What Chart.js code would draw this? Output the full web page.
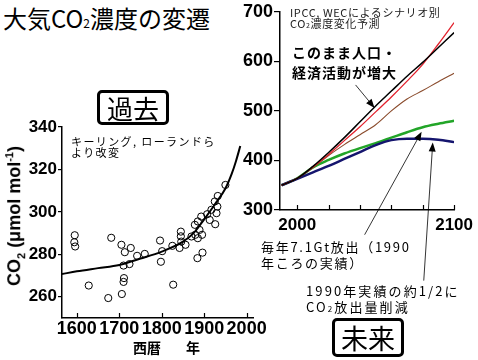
<!DOCTYPE html>
<html><head><meta charset="utf-8">
<script src="https://cdn.jsdelivr.net/npm/chart.js@4/dist/chart.umd.min.js"></script>
<style>
html,body{margin:0;padding:0;background:#fff;width:478px;height:360px;overflow:hidden;}
#wrap{position:relative;width:478px;height:360px;}
canvas{position:absolute;}
.t{position:absolute;white-space:nowrap;font-family:"Noto Sans CJK JP",sans-serif;color:#000;z-index:5;}
.box{position:absolute;box-sizing:border-box;border:3px solid #000;border-radius:5px;text-align:center;font-family:"Noto Sans CJK JP",sans-serif;z-index:5;background:#fff;}
</style></head><body>
<div id="wrap">
<canvas id="past" style="left:0;top:100px;width:270px;height:260px;" width="270" height="260"></canvas>
<canvas id="future" style="left:230px;top:0;width:248px;height:290px;" width="248" height="290"></canvas>

<div class="t" style="left:3px;top:6px;font-size:24px;line-height:24px;">大気CO<span style="font-size:12px;">2</span>濃度の変遷</div>
<div class="t" style="left:290px;top:6.5px;font-size:11px;line-height:11.5px;letter-spacing:0.6px;color:#222;">IPCC, WECによるシナリオ別<br>CO<span style="font-size:7px;">2</span>濃度変化予測</div>
<div class="t" style="left:292px;top:43px;font-size:14px;line-height:19.5px;font-weight:bold;letter-spacing:1px;">このまま人口・<br>経済活動が増大</div>
<div class="t" style="left:71px;top:136px;font-size:11px;line-height:11px;letter-spacing:1.4px;">キーリング, ローランドら<br>より改変</div>
<div class="t" style="left:261px;top:238.5px;font-size:13px;line-height:16px;letter-spacing:1.7px;">毎年7.1Gt放出（1990<br>年ころの実績）</div>
<div class="t" style="left:306px;top:282.5px;font-size:13px;line-height:16px;letter-spacing:2.1px;">1990年実績の約1/2に<br>CO<span style="font-size:8px;">2</span>放出量削減</div>
<div class="t" style="left:133px;top:340px;font-size:14px;line-height:14px;font-weight:bold;">西暦</div>
<div class="t" style="left:186px;top:340px;font-size:14px;line-height:14px;font-weight:bold;">年</div>
<div class="t" style="left:15px;top:216px;transform:translate(-50%,-50%) rotate(-90deg);font-family:'Liberation Sans',Arial,sans-serif;font-weight:bold;font-size:18px;line-height:20px;">CO<sub style="font-size:11px;">2</sub> (μmol mol<sup style="font-size:11px;">-1</sup>)</div>
<div class="box" style="left:97px;top:90px;width:72px;height:35px;font-size:26px;line-height:29px;">過去</div>
<div class="box" style="left:332px;top:318px;width:72px;height:39px;font-size:27px;line-height:33px;">未来</div>
</div>
<script>
// ---- past (ice core) data ----
const pastYears = [1594,1595,1596,1628,1674,1681,1705,1706,1710,1710,1711,1713,1724,1727,1742,1760,1796,1798,1801,1825,1827,1842,1845,1845,1846,1856,1870,1878,1879,1884,1885,1885,1889,1893,1895,1896,1907,1913,1917,1925,1926,1929,1931,1932,1950];
const pastCO2   = [285.7,289,283.7,265.3,259.4,287.8,284.5,261.3,267,274.7,268.8,281,275.4,283,279.3,280.2,286.5,276.5,281.5,284,265.7,283,290.7,288.5,286,284.5,288.4,293.9,289.2,278.2,295.5,287.6,291.5,297.8,289.2,280.8,298.9,296.2,301,304.9,294.2,299.4,302.5,307.5,312.7];
const fitYears  = [1565,1600,1650,1700,1750,1800,1850,1875,1900,1925,1950,1965,1975,1985];
const fitCO2    = [270.7,272,273.5,275,278,281.3,286,290,296.5,303.5,311,318,324,331];
const pastXTicks = [1600,1700,1800,1900,2000];
const pastYTicks = [260,280,300,320,340];

// ---- future scenarios ----
const futYears = [1990,2000,2010,2020,2030,2040,2050,2060,2070,2080,2090,2100];
const scenBlack = [350,364,388,416,446,478,510,540,570,598,628,658];
const scenRed   = [350,364,387,412,440,468,498,528,560,594,635,678];
const scenBrown = [350,364,385,410,432,452,472,500,524,541,559,576];
const scenGreen = [350,364,386,401,414,425,435,446,457,467,474,480];
const scenBlue  = [350,363,376,389,403,417,431,441,444,444,442,437];
const futXTicks = [2000,2020,2040,2060,2080,2100];
const futXLabels = [2000,2100];
const futYTicks = [300,400,500,600,700];

// arrows: tip in data units
const arrowYear = [2049.3, 2079.3, 2086.4];
const arrowCO2  = [506, 458, 436];

const tickFont = (s)=>({family:"'Liberation Sans', Arial, sans-serif", weight:'bold', size:s});

const inwardTicks = {
  id:'inwardTicks',
  afterDraw(chart){
    const sx = chart.scales.x, ctx = chart.ctx, b = chart.chartArea.bottom;
    ctx.save(); ctx.strokeStyle='#000'; ctx.lineWidth=1.2;
    sx.ticks.forEach(t=>{const p=Math.round(sx.getPixelForValue(t.value))+0.5; ctx.beginPath(); ctx.moveTo(p,b); ctx.lineTo(p,b-5); ctx.stroke();});
    ctx.restore();
  }
};

const arrows = {
  id:'arrows',
  afterDraw(chart){
    const sx = chart.scales.x, sy = chart.scales.y, ctx = chart.ctx;
    const tails = [[-19,-23],[-57,103],[-9,138]];
    ctx.save(); ctx.strokeStyle='#000'; ctx.fillStyle='#000'; ctx.lineWidth=0.8;
    arrowYear.forEach((yr,i)=>{
      const tx = sx.getPixelForValue(yr), ty = sy.getPixelForValue(arrowCO2[i]);
      const fx = tx + tails[i][0], fy = ty + tails[i][1];
      const a = Math.atan2(ty-fy, tx-fx);
      ctx.beginPath(); ctx.moveTo(fx,fy); ctx.lineTo(tx - 7*Math.cos(a), ty - 7*Math.sin(a)); ctx.stroke();
      const L=9, W=3.5;
      ctx.beginPath(); ctx.moveTo(tx,ty);
      ctx.lineTo(tx - L*Math.cos(a) + W*Math.sin(a), ty - L*Math.sin(a) - W*Math.cos(a));
      ctx.lineTo(tx - L*Math.cos(a) - W*Math.sin(a), ty - L*Math.sin(a) + W*Math.cos(a));
      ctx.closePath(); ctx.fill();
    });
    ctx.restore();
  }
};

new Chart(document.getElementById('past'), {
  data:{datasets:[
    {type:'line', data:fitYears.map((x,i)=>({x, y:fitCO2[i]})), borderColor:'#000', borderWidth:2, pointRadius:0, cubicInterpolationMode:'monotone', fill:false},
    {type:'scatter', data:pastYears.map((x,i)=>({x, y:pastCO2[i]})), pointRadius:3.6, pointBorderWidth:1, pointBorderColor:'#000', pointBackgroundColor:'rgba(0,0,0,0)'}
  ]},
  options:{
    responsive:false, devicePixelRatio:1, animation:false,
    plugins:{legend:{display:false}, tooltip:{enabled:false}},
    layout:{padding:{left:0, right:17, top:27, bottom:0}},
    scales:{
      x:{type:'linear', min:1565, max:2015,
        afterBuildTicks:s=>{s.ticks = pastXTicks.map(v=>({value:v}));},
        afterFit:s=>{s.height=42;},
        grid:{display:false, drawTicks:false, tickLength:0},
        border:{display:true, color:'#000', width:1.5},
        ticks:{autoSkip:false, maxRotation:0, padding:0, color:'#000', font:tickFont(18), callback:v=>String(v)}},
      y:{type:'linear', min:250, max:340,
        afterBuildTicks:s=>{s.ticks = pastYTicks.map(v=>({value:v}));},
        afterFit:s=>{s.width=62;},
        grid:{display:true, drawOnChartArea:false, drawTicks:true, tickLength:4, color:'#000', lineWidth:1.2},
        border:{display:true, color:'#000', width:1.5},
        ticks:{padding:1, color:'#000', font:tickFont(17)}}
    }
  },
  plugins:[inwardTicks]
});

const mk = (d,c,w)=>({type:'line', data:futYears.map((x,i)=>({x, y:d[i]})), borderColor:c, borderWidth:w, pointRadius:0, cubicInterpolationMode:'monotone', fill:false});
new Chart(document.getElementById('future'), {
  data:{datasets:[
    mk(scenBlack,'#000000',1.5),
    mk(scenRed,'#e2232e',1.3),
    mk(scenBrown,'#8a4b2c',1.1),
    mk(scenBlue,'#15156e',2.5),
    mk(scenGreen,'#22a528',2.5)
  ]},
  options:{
    responsive:false, devicePixelRatio:1, animation:false,
    plugins:{legend:{display:false}, tooltip:{enabled:false}},
    layout:{padding:{left:0, right:20, top:8, bottom:0}},
    scales:{
      x:{type:'linear', min:1989, max:2100,
        afterBuildTicks:s=>{s.ticks = futXTicks.map(v=>({value:v}));},
        afterFit:s=>{s.height=80;},
        grid:{display:false, drawTicks:false, tickLength:0},
        border:{display:true, color:'#000', width:1.5},
        ticks:{autoSkip:false, maxRotation:0, padding:5, color:'#000', font:tickFont(17), callback:v=>futXLabels.includes(v)?String(v):''}},
      y:{type:'linear', min:300, max:700,
        afterBuildTicks:s=>{s.ticks = futYTicks.map(v=>({value:v}));},
        afterFit:s=>{s.width=50;},
        grid:{display:true, drawOnChartArea:false, drawTicks:true, tickLength:6, color:'#000', lineWidth:1.2},
        border:{display:true, color:'#000', width:1.5},
        ticks:{padding:1, color:'#000', font:tickFont(18)}}
    }
  },
  plugins:[inwardTicks, arrows]
});
</script>
</body></html>
